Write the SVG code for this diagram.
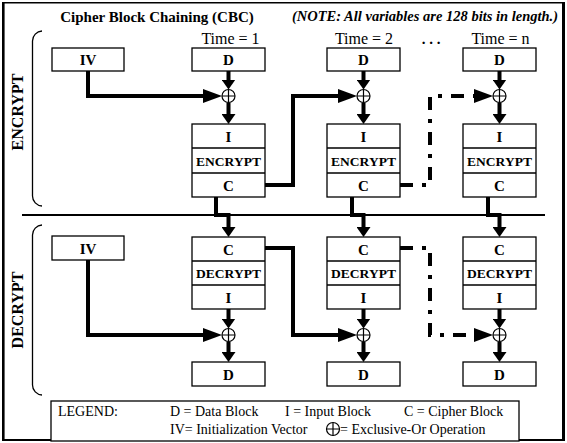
<svg xmlns="http://www.w3.org/2000/svg" width="567" height="443" viewBox="0 0 567 443">
<defs>
<style>
.box{fill:#fff;stroke:#000;stroke-width:1.3}
.t{font-family:"Liberation Serif","Times New Roman",serif;text-anchor:middle;fill:#000}
.b{font-weight:bold}
.lb{font-family:"Liberation Serif","Times New Roman",serif;font-size:14px;fill:#000}
.c{fill:none;stroke:#000;stroke-width:4}
.dash{stroke-dasharray:13 9 4 9}
.xo{fill:#fff;stroke:#000;stroke-width:1.2}
.br{fill:none;stroke:#000;stroke-width:1.3}
</style>
<marker id="as" markerUnits="userSpaceOnUse" viewBox="0 0 10 14" refX="5" refY="7" markerWidth="10" markerHeight="14" orient="auto"><path d="M0,0 L10,7 L0,14z"/></marker>
<marker id="al" markerUnits="userSpaceOnUse" viewBox="0 0 19 14" refX="11" refY="7" markerWidth="19" markerHeight="14" orient="auto"><path d="M0,0 L19,7 L0,14z"/></marker>
<g id="xorsym"><circle class="xo" cx="0" cy="0" r="6.5"/><path d="M-6.5,0H6.5M0,-6.5V6.5" stroke="#000" stroke-width="1.2"/></g>
</defs>
<rect width="567" height="443" fill="#fff"/>
<g id="frame" stroke="#000" fill="none">
<line x1="2" y1="2.7" x2="565" y2="2.7" stroke-width="1.5"/>
<line x1="2" y1="440" x2="565" y2="440" stroke-width="2"/>
<line x1="3.3" y1="2" x2="3.3" y2="441" stroke-width="2.6"/>
<line x1="563.5" y1="2" x2="563.5" y2="441" stroke-width="3"/>
<line x1="22" y1="215" x2="545" y2="215" stroke-width="2"/>
<path class="br" d="M42,31 A10,10 0 0 0 32.5,41 V196 A10,10 0 0 0 42,206"/>
<path class="br" d="M42,225 A10,10 0 0 0 32.5,235 V385 A10,10 0 0 0 42,395"/>
</g>
<g id="titles">
<text class="t b" x="157" y="22" font-size="15">Cipher Block Chaining (CBC)</text>
<text class="t b" x="558" y="21" font-size="14.5" font-style="italic" style="text-anchor:end">(NOTE:  All variables are 128 bits in length.)</text>
<text class="t" x="230.5" y="44" font-size="16">Time = 1</text>
<text class="t" x="364" y="44" font-size="16">Time = 2</text>
<text class="t b" x="431" y="44" font-size="15">. . .</text>
<text class="t" x="500.5" y="44" font-size="16">Time = n</text>
<text class="t b" font-size="16" transform="translate(23,112) rotate(-90)">ENCRYPT</text>
<text class="t b" font-size="16" transform="translate(23,310) rotate(-90)">DECRYPT</text>
</g>
<g id="connectors">
<path class="c" d="M88,71 V96 H214" marker-end="url(#al)"/>
<path class="c" d="M228.5,71 V84.5" marker-end="url(#as)"/>
<path class="c" d="M228.5,102.5 V119" marker-end="url(#as)"/>
<path class="c" d="M265,185 H293 V96 H349" marker-end="url(#al)"/>
<path class="c" d="M216,197 V215 H228.5 V232" marker-end="url(#as)"/>
<path class="c" d="M363.5,71 V84.5" marker-end="url(#as)"/>
<path class="c" d="M363.5,102.5 V119" marker-end="url(#as)"/>
<path class="c dash" d="M400,185 H430 V96 H485" marker-end="url(#al)"/>
<path class="c" d="M352,197 V215 H363.5 V232" marker-end="url(#as)"/>
<path class="c" d="M499.5,71 V84.5" marker-end="url(#as)"/>
<path class="c" d="M499.5,102.5 V119" marker-end="url(#as)"/>
<path class="c" d="M488,197 V215 H499.5 V232" marker-end="url(#as)"/>
<path class="c" d="M88,260 V335 H214" marker-end="url(#al)"/>
<path class="c" d="M228.5,309 V323.5" marker-end="url(#as)"/>
<path class="c" d="M228.5,341.5 V357" marker-end="url(#as)"/>
<path class="c" d="M265,248 H293 V335 H349" marker-end="url(#al)"/>
<path class="c" d="M363.5,309 V323.5" marker-end="url(#as)"/>
<path class="c" d="M363.5,341.5 V357" marker-end="url(#as)"/>
<path class="c dash" d="M400,248 H430 V335 H485" marker-end="url(#al)"/>
<path class="c" d="M499.5,309 V323.5" marker-end="url(#as)"/>
<path class="c" d="M499.5,341.5 V357" marker-end="url(#as)"/>
</g>
<g id="iv-enc"><rect class="box" x="52" y="48" width="72" height="23"/><text class="t b" x="88" y="65" font-size="15">IV</text></g>
<g id="d-in-1"><rect class="box" x="192" y="48" width="73" height="23"/><text class="t b" x="228.5" y="65" font-size="15">D</text></g>
<g id="d-in-2"><rect class="box" x="327" y="48" width="73" height="23"/><text class="t b" x="363.5" y="65" font-size="15">D</text></g>
<g id="d-in-3"><rect class="box" x="463" y="48" width="73" height="23"/><text class="t b" x="499.5" y="65" font-size="15">D</text></g>
<g id="xor-e1"><use href="#xorsym" x="228.5" y="96"/></g>
<g id="xor-e2"><use href="#xorsym" x="363.5" y="96"/></g>
<g id="xor-e3"><use href="#xorsym" x="499.5" y="96"/></g>
<g id="enc-1"><rect class="box" x="192" y="124" width="73" height="73"/><path d="M192,148H265M192,173H265" stroke="#000" stroke-width="1.3"/>
<text class="t b" x="228.5" y="141.5" font-size="15">I</text><text class="t b" x="228.5" y="165.5" font-size="13.5">ENCRYPT</text><text class="t b" x="228.5" y="190.5" font-size="15">C</text></g>
<g id="enc-2"><rect class="box" x="327" y="124" width="73" height="73"/><path d="M327,148H400M327,173H400" stroke="#000" stroke-width="1.3"/>
<text class="t b" x="363.5" y="141.5" font-size="15">I</text><text class="t b" x="363.5" y="165.5" font-size="13.5">ENCRYPT</text><text class="t b" x="363.5" y="190.5" font-size="15">C</text></g>
<g id="enc-3"><rect class="box" x="463" y="124" width="73" height="73"/><path d="M463,148H536M463,173H536" stroke="#000" stroke-width="1.3"/>
<text class="t b" x="499.5" y="141.5" font-size="15">I</text><text class="t b" x="499.5" y="165.5" font-size="13.5">ENCRYPT</text><text class="t b" x="499.5" y="190.5" font-size="15">C</text></g>
<g id="iv-dec"><rect class="box" x="52" y="236" width="72" height="24"/><text class="t b" x="88" y="253.5" font-size="15">IV</text></g>
<g id="dec-1"><rect class="box" x="192" y="237" width="73" height="72"/><path d="M192,261H265M192,285H265" stroke="#000" stroke-width="1.3"/>
<text class="t b" x="228.5" y="254.5" font-size="15">C</text><text class="t b" x="228.5" y="278" font-size="13.5">DECRYPT</text><text class="t b" x="228.5" y="302.5" font-size="15">I</text></g>
<g id="dec-2"><rect class="box" x="327" y="237" width="73" height="72"/><path d="M327,261H400M327,285H400" stroke="#000" stroke-width="1.3"/>
<text class="t b" x="363.5" y="254.5" font-size="15">C</text><text class="t b" x="363.5" y="278" font-size="13.5">DECRYPT</text><text class="t b" x="363.5" y="302.5" font-size="15">I</text></g>
<g id="dec-3"><rect class="box" x="463" y="237" width="73" height="72"/><path d="M463,261H536M463,285H536" stroke="#000" stroke-width="1.3"/>
<text class="t b" x="499.5" y="254.5" font-size="15">C</text><text class="t b" x="499.5" y="278" font-size="13.5">DECRYPT</text><text class="t b" x="499.5" y="302.5" font-size="15">I</text></g>
<g id="xor-d1"><use href="#xorsym" x="228.5" y="335"/></g>
<g id="xor-d2"><use href="#xorsym" x="363.5" y="335"/></g>
<g id="xor-d3"><use href="#xorsym" x="499.5" y="335"/></g>
<g id="d-out-1"><rect class="box" x="192" y="362" width="73" height="24"/><text class="t b" x="228.5" y="379.5" font-size="15">D</text></g>
<g id="d-out-2"><rect class="box" x="327" y="362" width="73" height="24"/><text class="t b" x="363.5" y="379.5" font-size="15">D</text></g>
<g id="d-out-3"><rect class="box" x="463" y="362" width="73" height="24"/><text class="t b" x="499.5" y="379.5" font-size="15">D</text></g>
<g id="legend">
<rect class="box" x="51" y="401" width="468" height="40"/>
<text class="lb" x="58" y="416">LEGEND:</text>
<text class="lb" x="170" y="416">D = Data Block</text>
<text class="lb" x="285" y="416">I = Input Block</text>
<text class="lb" x="404" y="416">C = Cipher Block</text>
<text class="lb" x="170" y="434">IV= Initialization Vector</text>
<use href="#xorsym" x="333" y="429"/>
<text class="lb" x="340" y="434">= Exclusive-Or Operation</text>
</g>
</svg>
